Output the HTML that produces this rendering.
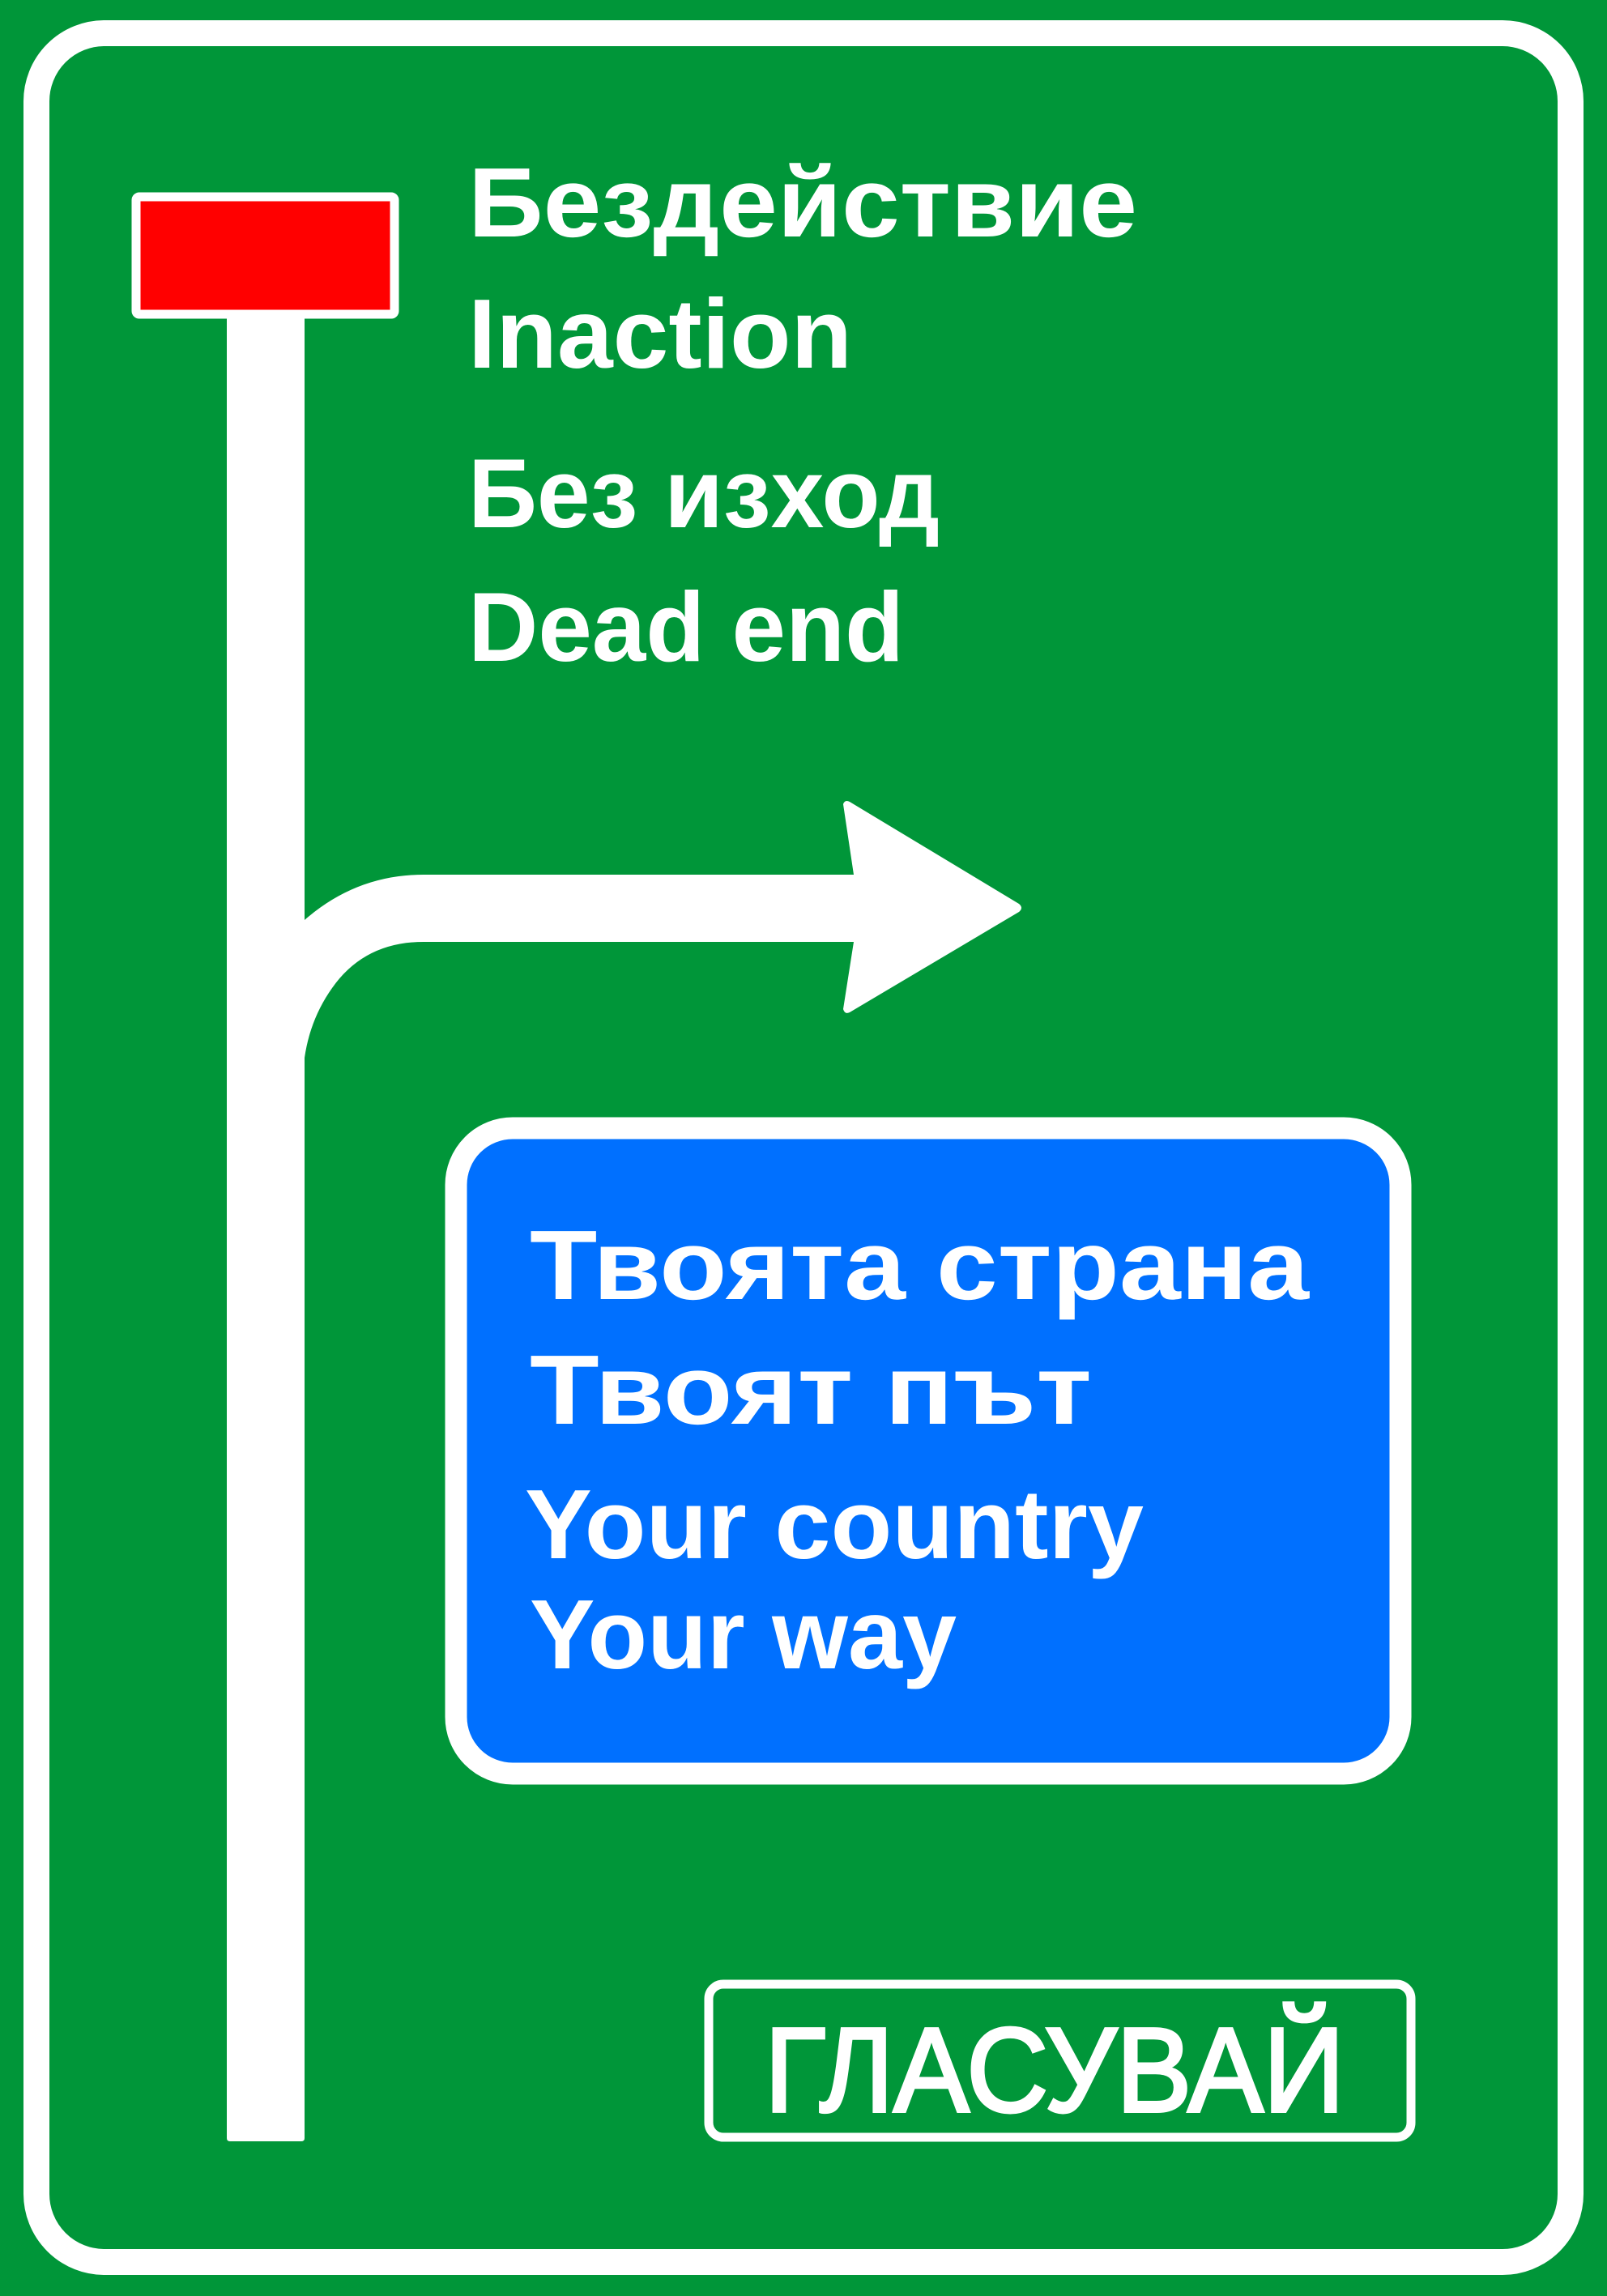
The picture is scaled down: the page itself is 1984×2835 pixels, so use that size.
<!DOCTYPE html>
<html><head><meta charset="utf-8"><style>html,body{margin:0;padding:0;background:#009639}svg{display:block}</style></head>
<body>
<svg width="1984" height="2835" viewBox="0 0 1984 2835" xmlns="http://www.w3.org/2000/svg">
<rect width="1984" height="2835" fill="#009639"/>
<rect x="45" y="41" width="1894" height="2752" rx="84" fill="none" stroke="#fff" stroke-width="32"/>
<rect x="168" y="243" width="319" height="145" rx="4" fill="#ff0000" stroke="#fff" stroke-width="11"/>
<path d="M280 391 H376 V2640 Q376 2644 372 2644 H284 Q280 2644 280 2640 Z" fill="#fff"/>
<path d="M376 1136 Q440 1080 523 1080 H1054 L1041 993 Q1043 987 1049 990 L1258 1116 Q1264 1121 1258 1126 L1049 1250 Q1043 1253 1041 1246 L1054 1163 H523 Q450 1163 410 1220 Q383 1258 376 1306 Z" fill="#fff"/>
<rect x="563" y="1393" width="1166" height="797" rx="70" fill="#0070ff" stroke="#fff" stroke-width="27"/>
<rect x="875" y="2450" width="867" height="189" rx="18" fill="none" stroke="#fff" stroke-width="11"/>
<g fill="#fff" font-family="'Liberation Sans','DejaVu Sans',sans-serif" font-weight="bold" font-size="122">
<text x="578" y="292" textLength="826" lengthAdjust="spacingAndGlyphs">Бездействие</text>
<text x="578" y="454" textLength="474" lengthAdjust="spacingAndGlyphs">Inaction</text>
<text x="578" y="651" textLength="582" lengthAdjust="spacingAndGlyphs">Без изход</text>
<text x="578" y="816" textLength="538" lengthAdjust="spacingAndGlyphs">Dead end</text>
<text x="654" y="1604" textLength="962" lengthAdjust="spacingAndGlyphs">Твоята страна</text>
<text x="654" y="1758" textLength="694" lengthAdjust="spacingAndGlyphs">Твоят път</text>
<text x="648" y="1924" textLength="764" lengthAdjust="spacingAndGlyphs">Your country</text>
<text x="654" y="2060" textLength="527" lengthAdjust="spacingAndGlyphs">Your way</text>
</g>
<text x="944" y="2607" fill="#fff" stroke="#fff" stroke-width="4" font-family="'Liberation Sans','DejaVu Sans',sans-serif" font-size="148" textLength="716" lengthAdjust="spacingAndGlyphs">ГЛАСУВАЙ</text>
</svg>
</body></html>
